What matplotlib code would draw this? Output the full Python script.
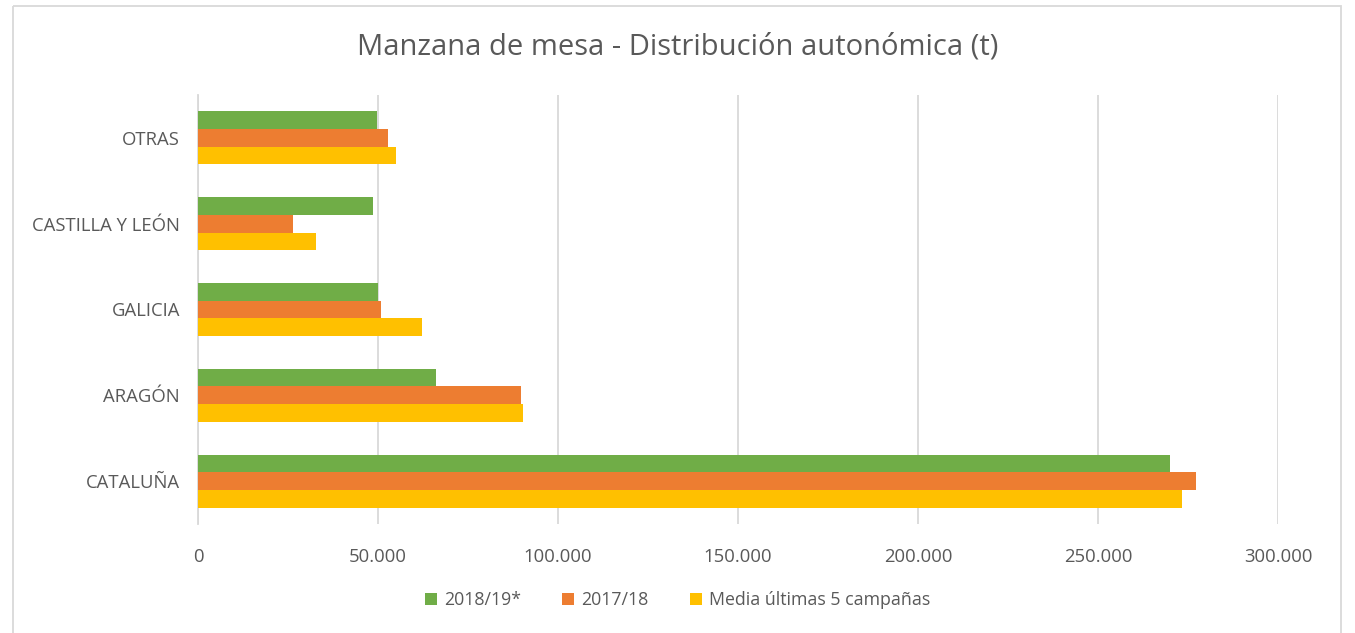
import numpy as np
import matplotlib.pyplot as plt
from matplotlib.patches import Rectangle
from matplotlib.ticker import FuncFormatter

# Datos (t)
regiones = ['OTRAS', 'CASTILLA Y LEÓN', 'GALICIA', 'ARAGÓN', 'CATALUÑA']
serie_1819 = [49800, 48500, 50000, 66000, 270000]
serie_1718 = [52700, 26300, 50700, 89700, 277200]
media_5 = [55000, 32900, 62300, 90200, 273400]
series = ['2018/19*', '2017/18', 'Media últimas 5 campañas']
colores = ['#70AD47', '#ED7D31', '#FFC000']

plt.rcParams['font.family'] = ['Open Sans', 'DejaVu Sans']
gris = '#595959'

fig = plt.figure(figsize=(13.55, 6.33), dpi=100)
ax = fig.add_axes([198 / 1355, 1 - 524 / 633, 1080 / 1355, 429 / 633])

y = np.arange(len(regiones))
h = 0.206
for i, (vals, col, nom) in enumerate(zip([serie_1819, serie_1718, media_5], colores, series)):
    ax.barh(y + (i - 1) * h, vals, height=h, color=col, label=nom, zorder=3)

ax.set_xlim(0, 300000)
ax.set_ylim(len(regiones) - 0.5, -0.5)
ax.set_xticks(np.arange(0, 300001, 50000))
ax.xaxis.set_major_formatter(FuncFormatter(lambda v, p: f'{int(v):,}'.replace(',', '.')))
ax.set_yticks(y)
ax.set_yticklabels(regiones)
ax.grid(axis='x', color='#D9D9D9', linewidth=1.3, zorder=0)
for s in ['top', 'right', 'bottom']:
    ax.spines[s].set_visible(False)
ax.spines['left'].set_color('#D9D9D9')
ax.spines['left'].set_linewidth(1.3)
ax.tick_params(length=0, labelsize=13.3, colors=gris, pad=13)
ax.tick_params(axis='x', pad=17)

fig.text(0.5, 1 - 47 / 633, 'Manzana de mesa - Distribución autonómica (t)',
         ha='center', va='center', fontsize=21, color=gris)

leg = fig.legend(loc='center', bbox_to_anchor=(0.5, 1 - 600 / 633), ncol=3,
                 frameon=False, fontsize=12.8, handlelength=0.7, handleheight=0.7,
                 handletextpad=0.4, columnspacing=2.3)
for t in leg.get_texts():
    t.set_color(gris)

# marco del gráfico (el borde inferior queda fuera de la imagen)
fig.patches.append(Rectangle((12.5 / 1355, 1 - 5.5 / 633), 1328 / 1355, -1.02,
                             transform=fig.transFigure, fill=False,
                             edgecolor='#D9D9D9', linewidth=1.3))

fig.savefig('out.png', dpi=100)
